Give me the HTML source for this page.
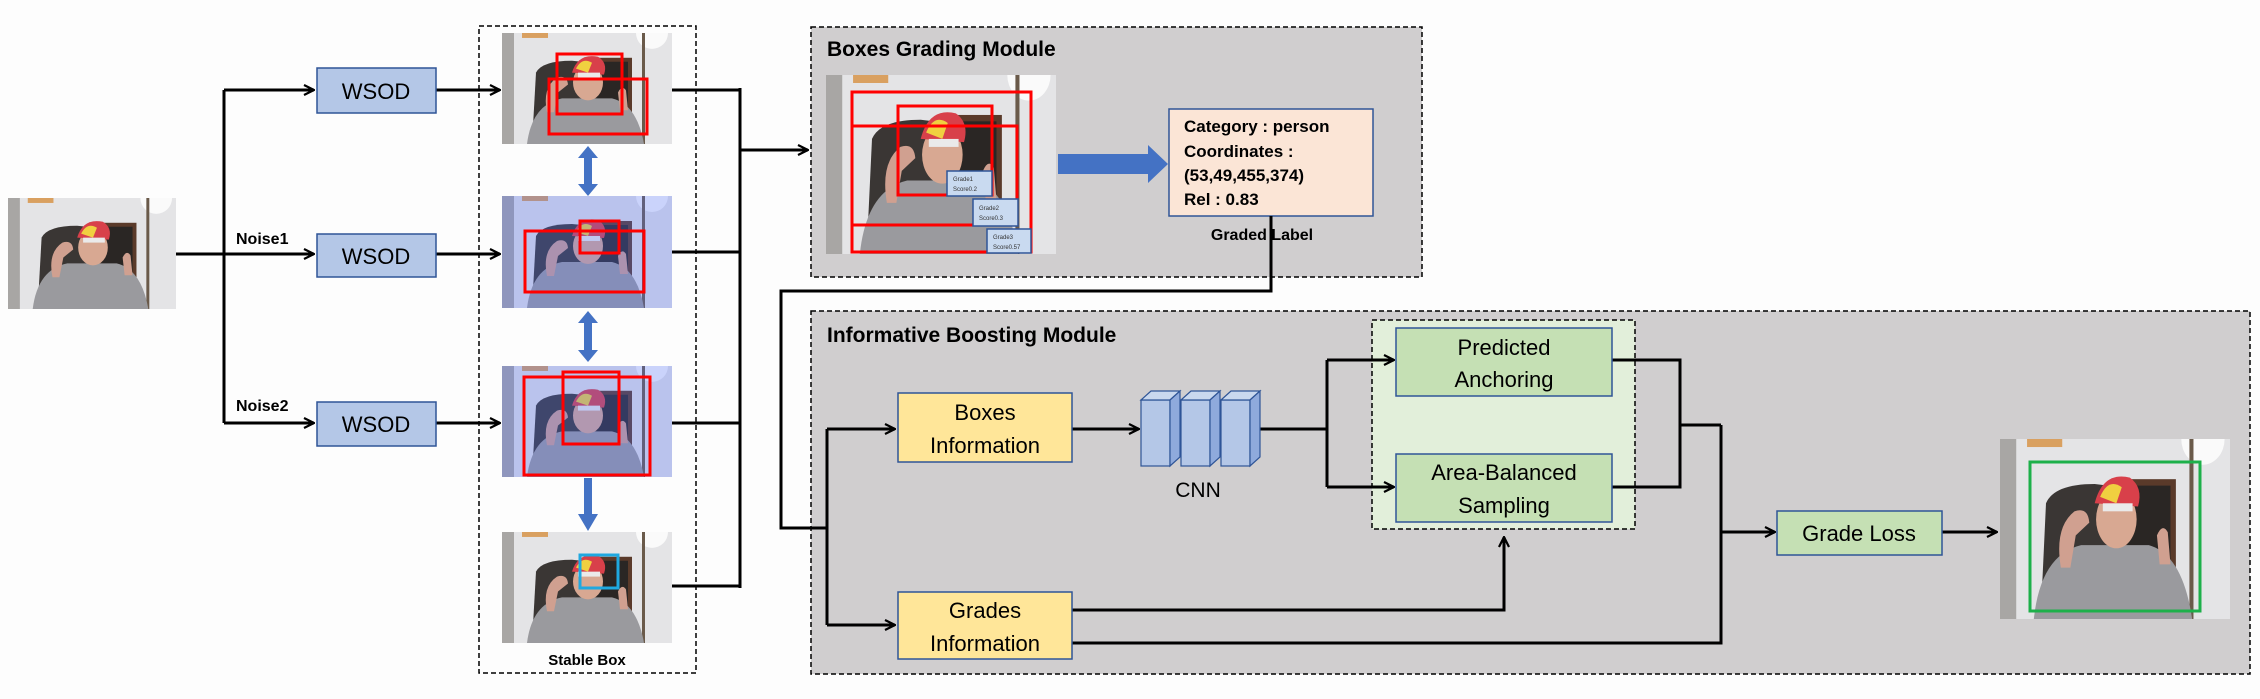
<!DOCTYPE html>
<html><head><meta charset="utf-8"><style>
html,body{margin:0;padding:0;background:#fdfdfd;}
svg{display:block;}
text{font-family:"Liberation Sans",sans-serif;}
</style></head><body>
<svg width="2260" height="699" viewBox="0 0 2260 699" xmlns="http://www.w3.org/2000/svg">
<defs>
<marker id="ah" viewBox="0 0 12 12" refX="11" refY="6" markerWidth="12" markerHeight="12" markerUnits="userSpaceOnUse" orient="auto">
<path d="M1,1 L11,6 L1,11" fill="none" stroke="#000" stroke-width="2.2"/>
</marker>
<symbol id="ph" viewBox="0 0 170 112" preserveAspectRatio="none">
<rect width="170" height="112" fill="#e4e4e6"/>
<rect x="0" y="0" width="12" height="112" fill="#a8a6a4"/>
<rect x="20" y="0" width="26" height="5" fill="#d9a060"/>
<circle cx="150" cy="0" r="16" fill="#fafafa"/>
<rect x="140" y="0" width="3" height="112" fill="#6a5a4a"/>
<rect x="90" y="25" width="40" height="60" fill="#5a3a2a"/>
<rect x="94" y="29" width="32" height="52" fill="#2a2624"/>
<path d="M30,112 L34,40 Q40,28 70,28 L90,30 L90,112 Z" fill="#3a3634"/>
<path d="M25,112 Q30,72 60,66 L110,66 Q135,72 142,112 Z" fill="#9a9a9e"/>
<ellipse cx="86" cy="50" rx="15" ry="18" fill="#d8a892"/>
<path d="M70,40 Q76,20 96,24 Q106,30 102,42 Z" fill="#d8404a"/>
<path d="M74,36 Q80,24 90,30 L86,40 Z" fill="#f0d040"/>
<rect x="76" y="40" width="22" height="5" fill="#eaeaea"/>
<path d="M45,80 Q40,55 55,45 Q65,42 66,52 L56,60 L52,80 Z" fill="#d0a090"/>
<path d="M118,78 L116,60 Q120,52 124,58 L126,78 Z" fill="#d0a090"/>
</symbol>
</defs>

<!-- Left photo -->
<use href="#ph" x="8" y="198" width="168" height="111"/>

<!-- branch lines -->
<g stroke="#000" stroke-width="3" fill="none">
<line x1="176" y1="254" x2="224" y2="254"/>
<line x1="224" y1="90" x2="224" y2="423"/>
<line x1="224" y1="90" x2="314" y2="90" marker-end="url(#ah)"/>
<line x1="224" y1="254" x2="314" y2="254" marker-end="url(#ah)"/>
<line x1="224" y1="423" x2="314" y2="423" marker-end="url(#ah)"/>
<line x1="436" y1="90" x2="500" y2="90" marker-end="url(#ah)"/>
<line x1="436" y1="254" x2="500" y2="254" marker-end="url(#ah)"/>
<line x1="436" y1="423" x2="500" y2="423" marker-end="url(#ah)"/>
</g>
<text x="236" y="244" font-size="16" font-weight="bold">Noise1</text>
<text x="236" y="411" font-size="16" font-weight="bold">Noise2</text>

<g fill="#b4c7e7" stroke="#2f5597" stroke-width="1.5">
<rect x="317" y="68" width="119" height="45"/>
<rect x="317" y="234" width="119" height="43"/>
<rect x="317" y="402" width="119" height="44"/>
</g>
<g font-size="22" text-anchor="middle">
<text x="376" y="99">WSOD</text>
<text x="376" y="264">WSOD</text>
<text x="376" y="432">WSOD</text>
</g>

<!-- Stable box -->
<rect x="479" y="26" width="217" height="647" fill="none" stroke="#000" stroke-width="1.5" stroke-dasharray="5,3"/>
<use href="#ph" x="502" y="33" width="170" height="111"/>
<use href="#ph" x="502" y="196" width="170" height="112"/>
<rect x="502" y="196" width="170" height="112" fill="#5070ff" opacity="0.28"/>
<use href="#ph" x="502" y="366" width="170" height="111"/>
<rect x="502" y="366" width="170" height="111" fill="#5070ff" opacity="0.28"/>
<use href="#ph" x="502" y="532" width="170" height="111"/>
<g fill="none" stroke="#f00" stroke-width="3">
<rect x="557" y="54" width="65" height="60"/>
<rect x="549" y="79" width="98" height="55"/>
<rect x="580" y="221" width="39" height="32"/>
<rect x="525" y="231" width="119" height="61"/>
<rect x="563" y="372" width="56" height="72"/>
<rect x="524" y="377" width="126" height="98"/>
</g>
<rect x="580" y="555" width="38" height="33" fill="none" stroke="#1fa8e0" stroke-width="3"/>
<text x="587" y="665" font-size="15" font-weight="bold" text-anchor="middle">Stable Box</text>
<g fill="#4472c4">
<path d="M588,146 L598,158 L592,158 L592,184 L598,184 L588,196 L578,184 L584,184 L584,158 L578,158 Z"/>
<path d="M588,311 L598,323 L592,323 L592,350 L598,350 L588,362 L578,350 L584,350 L584,323 L578,323 Z"/>
<path d="M584,478 L592,478 L592,514 L598,514 L588,531 L578,514 L584,514 Z"/>
</g>

<g stroke="#000" stroke-width="3" fill="none">
<line x1="672" y1="90" x2="740" y2="90"/>
<line x1="672" y1="252" x2="740" y2="252"/>
<line x1="672" y1="423" x2="740" y2="423"/>
<line x1="672" y1="586" x2="740" y2="586"/>
<line x1="740" y1="88" x2="740" y2="588"/>
<line x1="740" y1="150" x2="808" y2="150" marker-end="url(#ah)"/>
</g>

<!-- Boxes Grading Module -->
<rect x="811" y="27" width="611" height="250" fill="#d0cecf" stroke="#000" stroke-width="1.5" stroke-dasharray="5,3"/>
<text x="827" y="56" font-size="21" font-weight="bold">Boxes Grading Module</text>
<use href="#ph" x="826" y="75" width="230" height="179"/>
<g fill="none" stroke="#f00" stroke-width="3">
<rect x="852" y="92" width="179" height="160"/>
<rect x="898" y="106" width="94" height="89"/>
<rect x="852" y="126" width="165" height="99"/>
</g>
<g fill="#c9daf0" stroke="#2f5597" stroke-width="1.5" font-size="6">
<rect x="947" y="171" width="45" height="25"/>
<rect x="973" y="199" width="45" height="27"/>
<rect x="987" y="229" width="44" height="24"/>
</g>
<g font-size="6" fill="#333">
<text x="953" y="181">Grade1</text><text x="953" y="191">Score0.2</text>
<text x="979" y="210">Grade2</text><text x="979" y="220">Score0.3</text>
<text x="993" y="239">Grade3</text><text x="993" y="249">Score0.57</text>
</g>
<path d="M1058,154 L1148,154 L1148,145 L1168,164 L1148,183 L1148,174 L1058,174 Z" fill="#4472c4"/>
<rect x="1169" y="109" width="204" height="107" fill="#fbe5d6" stroke="#2f5597" stroke-width="1.5"/>
<g font-size="17" font-weight="bold">
<text x="1184" y="132">Category : person</text>
<text x="1184" y="157">Coordinates :</text>
<text x="1184" y="181">(53,49,455,374)</text>
<text x="1184" y="205">Rel : 0.83</text>
</g>
<text x="1262" y="240" font-size="16" font-weight="bold" text-anchor="middle">Graded Label</text>

<!-- Informative Boosting Module -->
<rect x="811" y="311" width="1439" height="363" fill="#d0cecf" stroke="#000" stroke-width="1.5" stroke-dasharray="5,3"/>
<text x="827" y="342" font-size="21" font-weight="bold">Informative Boosting Module</text>
<rect x="1372" y="320" width="263" height="209" fill="#e2efda" stroke="#000" stroke-width="1.5" stroke-dasharray="5,3"/>

<g stroke="#000" stroke-width="3" fill="none">
<polyline points="1271,216 1271,291 781,291 781,528 827,528"/>
<line x1="827" y1="429" x2="827" y2="625"/>
<line x1="827" y1="429" x2="895" y2="429" marker-end="url(#ah)"/>
<line x1="827" y1="625" x2="895" y2="625" marker-end="url(#ah)"/>
<line x1="1072" y1="429" x2="1139" y2="429" marker-end="url(#ah)"/>
<line x1="1259" y1="429" x2="1327" y2="429"/>
<line x1="1327" y1="360" x2="1327" y2="487"/>
<line x1="1327" y1="360" x2="1394" y2="360" marker-end="url(#ah)"/>
<line x1="1327" y1="487" x2="1394" y2="487" marker-end="url(#ah)"/>
<polyline points="1072,610 1504,610 1504,537" marker-end="url(#ah)"/>
<polyline points="1072,643 1721,643 1721,425"/>
<polyline points="1612,360 1680,360 1680,487 1612,487"/>
<line x1="1680" y1="425" x2="1721" y2="425"/>
<line x1="1721" y1="532" x2="1775" y2="532" marker-end="url(#ah)"/>
<line x1="1942" y1="532" x2="1997" y2="532" marker-end="url(#ah)"/>
</g>

<g fill="#ffe699" stroke="#2f5597" stroke-width="1.5">
<rect x="898" y="393" width="174" height="69"/>
<rect x="898" y="592" width="174" height="67"/>
</g>
<g font-size="22" text-anchor="middle">
<text x="985" y="420">Boxes</text><text x="985" y="453">Information</text>
<text x="985" y="618">Grades</text><text x="985" y="651">Information</text>
</g>

<!-- CNN -->
<g fill="#b4c7e7" stroke="#2f5597" stroke-width="1.2">
<rect x="1141" y="400" width="29" height="66"/>
<path d="M1141,400 L1151,391 L1180,391 L1170,400 Z" fill="#c9d8ee"/>
<path d="M1170,400 L1180,391 L1180,457 L1170,466 Z" fill="#8faadc"/>
<rect x="1181" y="400" width="29" height="66"/>
<path d="M1181,400 L1191,391 L1220,391 L1210,400 Z" fill="#c9d8ee"/>
<path d="M1210,400 L1220,391 L1220,457 L1210,466 Z" fill="#8faadc"/>
<rect x="1221" y="400" width="29" height="66"/>
<path d="M1221,400 L1231,391 L1260,391 L1250,400 Z" fill="#c9d8ee"/>
<path d="M1250,400 L1260,391 L1260,457 L1250,466 Z" fill="#8faadc"/>
</g>
<text x="1198" y="497" font-size="21" text-anchor="middle">CNN</text>

<g fill="#c5e0b4" stroke="#2f5597" stroke-width="1.5">
<rect x="1396" y="328" width="216" height="68"/>
<rect x="1396" y="454" width="216" height="68"/>
<rect x="1777" y="511" width="165" height="44"/>
</g>
<g font-size="22" text-anchor="middle">
<text x="1504" y="355">Predicted</text><text x="1504" y="387">Anchoring</text>
<text x="1504" y="480">Area-Balanced</text><text x="1504" y="513">Sampling</text>
<text x="1859" y="541">Grade Loss</text>
</g>

<use href="#ph" x="2000" y="439" width="230" height="180"/>
<rect x="2030" y="462" width="170" height="149" fill="none" stroke="#1db04a" stroke-width="3"/>
</svg>
</body></html>
